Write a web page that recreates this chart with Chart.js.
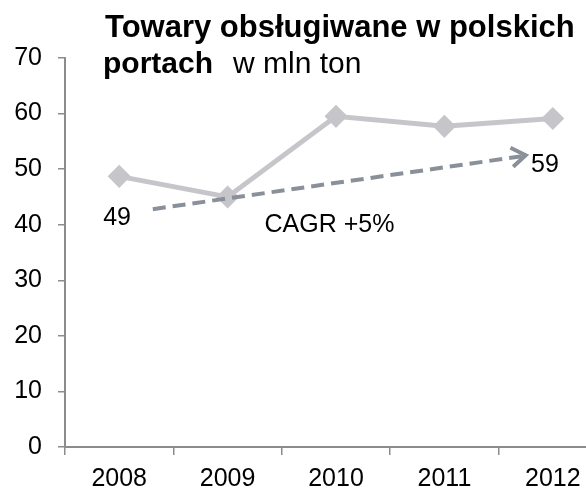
<!DOCTYPE html>
<html lang="pl">
<head>
<meta charset="utf-8">
<script src="https://cdn.jsdelivr.net/npm/chart.js@4/dist/chart.umd.min.js"></script>
<style>
    body { margin: 0; background: #fff; }
    #wrap { width: 586px; height: 491px; overflow: hidden; }
</style>
</head>
<body>
<div id="wrap"><canvas id="myChart" width="620" height="491"></canvas></div>
<script>
// dane
const lata = ['2008', '2009', '2010', '2011', '2012'];
const towary = [48.7, 45.0, 59.5, 57.7, 59.1];
const trendX = [0.31, 3.75];   // pozycja na osi kategorii (indeks)
const trendY = [42.8, 52.5];
const yTicks = [0, 10, 20, 30, 40, 50, 60, 70];

const FONT = "'Liberation Sans', Arial, sans-serif";

// linia trendu + strzalka, podpisy i tytul
const dopiski = {
    id: 'dopiski',
    afterDatasetsDraw(chart) {
        const ctx = chart.ctx;
        const x = chart.scales.x, y = chart.scales.y;
        const x1 = x.getPixelForValue(trendX[0]), y1 = y.getPixelForValue(trendY[0]);
        const x2 = x.getPixelForValue(trendX[1]), y2 = y.getPixelForValue(trendY[1]);

        ctx.save();
        ctx.strokeStyle = '#8a9099';
        ctx.lineWidth = 4;
        ctx.setLineDash([13, 7]);
        ctx.beginPath();
        ctx.moveTo(x1, y1);
        ctx.lineTo(x2 - 4, y2 + 1);
        ctx.stroke();

        // grot
        ctx.setLineDash([]);
        const kat = Math.atan2(y2 - y1, x2 - x1);
        const dl = 17;
        ctx.beginPath();
        ctx.moveTo(x2 - dl * Math.cos(kat - 0.6), y2 - dl * Math.sin(kat - 0.6));
        ctx.lineTo(x2, y2);
        ctx.lineTo(x2 - dl * Math.cos(kat + 0.6), y2 - dl * Math.sin(kat + 0.6));
        ctx.stroke();
        ctx.restore();
    },
    afterDraw(chart) {
        const ctx = chart.ctx;
        const x = chart.scales.x, y = chart.scales.y;
        ctx.save();
        ctx.fillStyle = '#000';
        ctx.textBaseline = 'alphabetic';

        // podpisy przy linii trendu
        ctx.font = '25px ' + FONT;
        ctx.textAlign = 'center';
        ctx.fillText('49', x.getPixelForValue(-0.02), y.getPixelForValue(39.9));
        ctx.fillText('CAGR +5%', x.getPixelForValue(1.94), y.getPixelForValue(38.7));
        ctx.textAlign = 'left';
        ctx.fillText('59', x.getPixelForValue(3.8), y.getPixelForValue(49.5));

        // tytul
        ctx.font = 'bold 31px ' + FONT;
        ctx.fillText('Towary obsługiwane w polskich', 105, 37);
        ctx.font = 'bold 30px ' + FONT;
        ctx.fillText('portach', 103, 73);
        ctx.font = '30px ' + FONT;
        ctx.fillText('w mln ton', 233, 73);
        ctx.restore();
    }
};

const ctx = document.getElementById('myChart');

new Chart(ctx, {
    type: 'line',
    data: {
        labels: lata,
        datasets: [{
            data: towary,
            borderColor: '#c6c6ca',
            backgroundColor: '#c6c6ca',
            borderWidth: 5,
            pointStyle: 'rectRot',
            pointRadius: 8,
            pointHoverRadius: 8,
            tension: 0
        }]
    },
    options: {
        responsive: false,
        animation: false,
        layout: {
            padding: { top: 58, right: 10, left: 0, bottom: 0 }
        },
        plugins: {
            legend: { display: false },
            tooltip: { enabled: false }
        },
        scales: {
            x: {
                offset: true,
                grid: {
                    offset: true,
                    drawOnChartArea: false,
                    tickLength: 8,
                    color: '#8c8c8c',
                    lineWidth: 1.5
                },
                border: { color: '#8c8c8c', width: 2 },
                ticks: {
                    color: '#000',
                    padding: 9,
                    font: { family: FONT, size: 25 }
                },
                afterFit(scale) { scale.height = 44; }
            },
            y: {
                min: 0,
                max: 70,
                afterBuildTicks(scale) {
                    scale.ticks = yTicks.map(v => ({ value: v }));
                },
                grid: {
                    drawOnChartArea: false,
                    tickLength: 7,
                    color: '#8c8c8c',
                    lineWidth: 1.5
                },
                border: { color: '#8c8c8c', width: 2 },
                ticks: {
                    color: '#000',
                    padding: 16,
                    font: { family: FONT, size: 25 }
                },
                afterFit(scale) { scale.width = 65; }
            }
        }
    },
    plugins: [dopiski]
});
</script>
</body>
</html>
